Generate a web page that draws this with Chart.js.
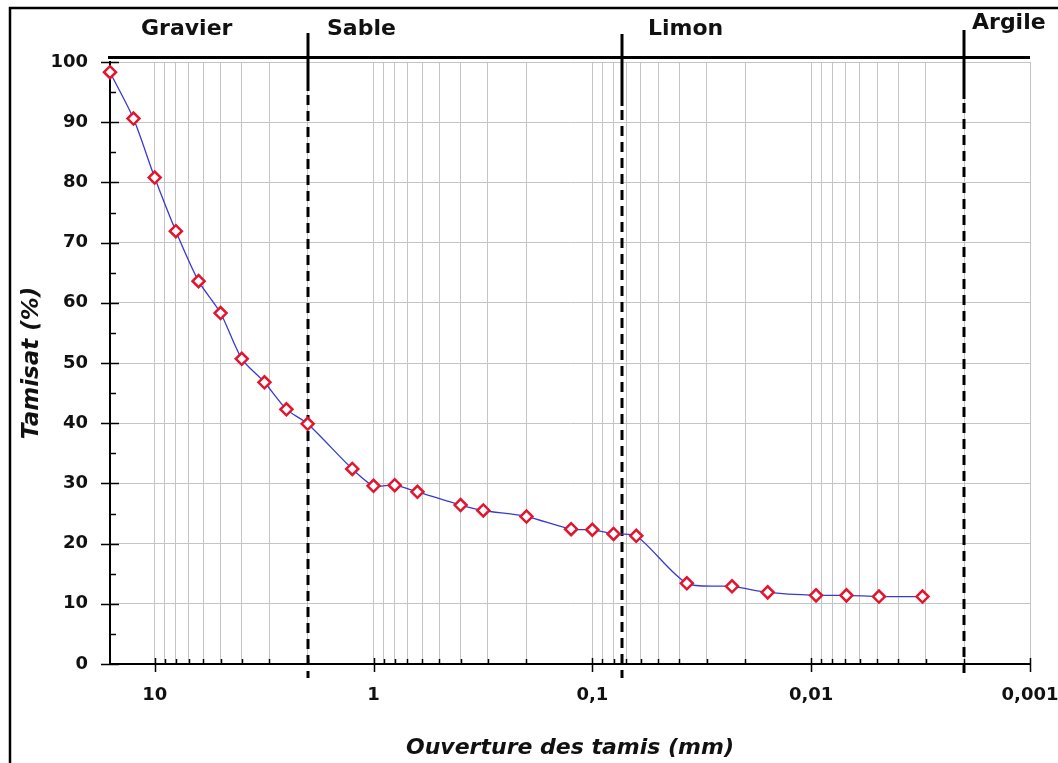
<!DOCTYPE html>
<html>
<head>
<meta charset="utf-8">
<script src="https://cdn.jsdelivr.net/npm/chart.js@4.4.0/dist/chart.umd.min.js"></script>
<style>
  html, body { margin: 0; padding: 0; background: #fff; }
  #wrap { width: 1058px; height: 763px; position: relative; }
</style>
</head>
<body>
<div id="wrap"><canvas id="courbe"></canvas></div>
<script>
//Ouverture des tamis (mm) et tamisat (%)
const tamis = [16, 12.5, 10, 8, 6.3, 5, 4, 3.15, 2.5, 2, 1.25, 1, 0.8, 0.63, 0.4, 0.315, 0.2, 0.125, 0.1, 0.08,
    0.063, 0.037, 0.023, 0.0158, 0.0095, 0.0069, 0.0049, 0.0031];
const tamisat = [98.3, 90.6, 80.8, 71.9, 63.6, 58.3, 50.7, 46.8, 42.3, 39.9, 32.4, 29.6, 29.7, 28.6, 26.4, 25.5, 24.5,
    22.4, 22.3, 21.6, 21.3, 13.4, 12.9, 11.9, 11.4, 11.4, 11.2, 11.2];

//Limites des classes (mm)
const limites = [2, 0.073, 0.002];
const classes = ['Gravier', 'Sable', 'Limon', 'Argile'];

//Graduations
const decades = [10, 1, 0.1, 0.01, 0.001];
const decadeLabels = ['10', '1', '0,1', '0,01', '0,001'];
const multiples = [1, 2, 3, 4, 5, 6, 7, 8, 9];
const yTicks = [0, 10, 20, 30, 40, 50, 60, 70, 80, 90, 100];
const yMinor = [5, 15, 25, 35, 45, 55, 65, 75, 85, 95];

const FONT = 'DejaVu Sans';

//Valeurs des lignes de grille verticales
const gridValues = [10];
decades.slice(1).forEach(function (d) {
    multiples.forEach(function (m) {
        gridValues.push(d * m);
    });
});

function isDecade(v) {
    return decades.findIndex(function (d) { return Math.abs(v - d) / d < 1e-6; });
}

//Cadre, bandeau du haut, limites et graduations
const habillage = {
    id: 'habillage',
    beforeDatasetsDraw: function (chart) {
        const ctx = chart.ctx;
        const xs = chart.scales.x;
        const area = chart.chartArea;
        const solidTop = [33, 34, 30];
        const solidEnd = [91, 106, 99];
        ctx.save();
        ctx.strokeStyle = '#000';
        ctx.lineWidth = 3;
        limites.forEach(function (l, i) {
            const px = Math.round(xs.getPixelForValue(l));
            ctx.setLineDash([]);
            ctx.beginPath();
            ctx.moveTo(px, solidTop[i]);
            ctx.lineTo(px, solidEnd[i]);
            ctx.stroke();
            ctx.setLineDash([10, 6]);
            ctx.beginPath();
            ctx.moveTo(px, solidEnd[i] + 4);
            ctx.lineTo(px, area.bottom + 14);
            ctx.stroke();
        });
        ctx.restore();
    },
    afterDraw: function (chart) {
        const ctx = chart.ctx;
        const xs = chart.scales.x;
        const ys = chart.scales.y;
        const area = chart.chartArea;
        ctx.save();

        //cadre
        ctx.strokeStyle = '#000';
        ctx.lineWidth = 2.5;
        ctx.strokeRect(10, 8, 1100, 800);

        //bandeau
        ctx.lineWidth = 3;
        ctx.beginPath();
        ctx.moveTo(area.left - 2, area.top - 4.5);
        ctx.lineTo(area.right, area.top - 4.5);
        ctx.stroke();

        //graduations
        ctx.lineWidth = 1.5;
        ctx.beginPath();
        gridValues.forEach(function (v) {
            const px = Math.round(xs.getPixelForValue(v)) + 0.5;
            if (isDecade(v) >= 0) {
                ctx.moveTo(px, area.bottom - 6);
                ctx.lineTo(px, area.bottom + 8);
            } else {
                ctx.moveTo(px, area.bottom - 5);
                ctx.lineTo(px, area.bottom);
            }
        });
        yTicks.forEach(function (v) {
            const py = Math.round(ys.getPixelForValue(v)) + 0.5;
            ctx.moveTo(area.left - 9, py);
            ctx.lineTo(area.left + 9, py);
        });
        yMinor.forEach(function (v) {
            const py = Math.round(ys.getPixelForValue(v)) + 0.5;
            ctx.moveTo(area.left, py);
            ctx.lineTo(area.left + 6, py);
        });
        ctx.stroke();

        //noms des classes
        const pos = [[141, 29], [327, 29], [648, 29], [972, 23]];
        ctx.fillStyle = '#111';
        ctx.font = 'bold 22px "' + FONT + '"';
        ctx.textAlign = 'left';
        ctx.textBaseline = 'middle';
        classes.forEach(function (c, i) {
            ctx.fillText(c, pos[i][0], pos[i][1]);
        });
        ctx.restore();
    }
};

const ctx = document.getElementById('courbe').getContext('2d');
const courbe = new Chart(ctx, {
    type: 'line',
    data: {
        datasets: [{
            label: 'Tamisat',
            data: tamis.map(function (t, i) { return { x: t, y: tamisat[i] }; }),
            borderColor: '#3a3ad0',
            borderWidth: 1.3,
            tension: 0.25,
            fill: false,
            pointStyle: 'rectRot',
            pointRadius: 6,
            pointBorderWidth: 2.5,
            pointBorderColor: '#e3142c',
            pointBackgroundColor: '#fff',
            clip: false
        }]
    },
    options: {
        responsive: true,
        maintainAspectRatio: false,
        animation: false,
        layout: { padding: { top: 62, right: 28, left: 0, bottom: 0 } },
        plugins: {
            legend: { display: false },
            tooltip: { enabled: false }
        },
        scales: {
            x: {
                type: 'logarithmic',
                reverse: true,
                min: 0.001,
                max: 16,
                afterBuildTicks: function (scale) {
                    scale.ticks = gridValues.map(function (v) { return { value: v }; });
                },
                afterFit: function (scale) { scale.height = 99; },
                ticks: {
                    autoSkip: false,
                    maxRotation: 0,
                    padding: 21,
                    color: '#111',
                    font: { family: FONT, size: 18, weight: 'bold' },
                    callback: function (v) {
                        const k = isDecade(v);
                        return k >= 0 ? decadeLabels[k] : '';
                    }
                },
                grid: { color: '#c4c4c4', lineWidth: 1, drawTicks: false },
                border: { color: '#000', width: 2 },
                title: {
                    display: true,
                    text: 'Ouverture des tamis (mm)',
                    color: '#111',
                    font: { family: FONT, size: 22, style: 'italic', weight: 'bold' },
                    padding: { top: 0, bottom: 2 }
                }
            },
            y: {
                type: 'linear',
                min: 0,
                max: 100,
                afterFit: function (scale) { scale.width = 110; },
                afterBuildTicks: function (scale) {
                    scale.ticks = yTicks.map(function (v) { return { value: v }; });
                },
                ticks: {
                    padding: 22,
                    color: '#111',
                    font: { family: FONT, size: 18, weight: 'bold' }
                },
                grid: { color: '#c4c4c4', lineWidth: 1, drawTicks: false },
                border: { color: '#000', width: 2 },
                title: {
                    display: true,
                    text: 'Tamisat (%)',
                    color: '#111',
                    font: { family: FONT, size: 23, style: 'italic', weight: 'bold' },
                    padding: { top: 18, bottom: 0 }
                }
            }
        }
    },
    plugins: [habillage]
});
</script>
</body>
</html>
